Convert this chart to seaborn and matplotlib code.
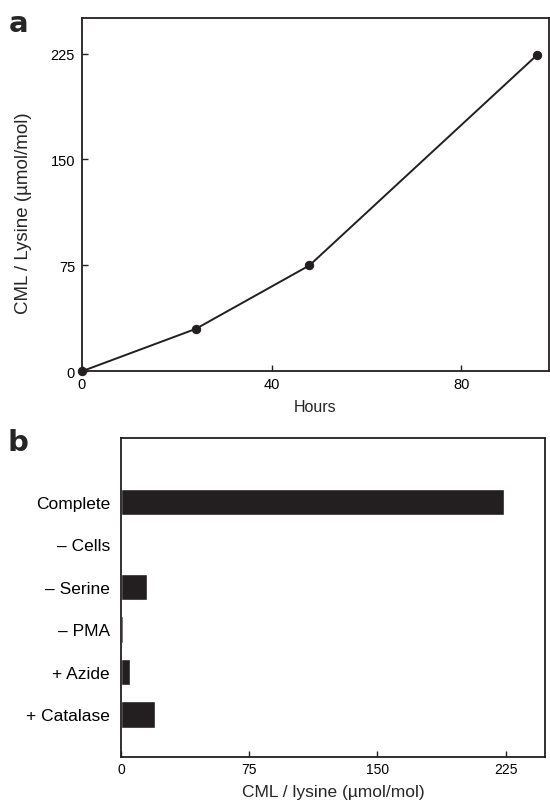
import numpy as np
import pandas as pd
import matplotlib
matplotlib.use('Agg')
import matplotlib.pyplot as plt
import seaborn as sns

## Data ##
hours = [0, 24, 48, 96]
cml_time = [0, 30, 75, 224]

conditions = ['Complete', '\u2013 Cells', '\u2013 Serine', '\u2013 PMA', '+ Azide', '+ Catalase']
cml_cond = [224, 0, 15, 1, 5, 20]

sns.set_style('ticks')
plt.rcParams['font.family'] = ['Liberation Sans', 'DejaVu Sans']

fig = plt.figure(figsize=(5.5, 8.04), dpi=100)
ax1 = fig.add_axes([0.149, 0.537, 0.849, 0.439])
ax2 = fig.add_axes([0.22, 0.0572, 0.771, 0.3968])

dark = '#231f20'

# Panel a: time course
time_df = pd.DataFrame({'hours': hours, 'cml': cml_time})
sns.lineplot(data=time_df, x='hours', y='cml', marker='o', color=dark,
             markersize=6, markeredgecolor=dark, linewidth=1.4, ax=ax1,
             clip_on=False)
ax1.set(xlim=(0, 98.5), ylim=(0, 250))
ax1.set_xticks([0, 40, 80])
ax1.set_yticks([0, 75, 150, 225])
ax1.set_xlabel('Hours', fontsize=11.5, labelpad=6)
ax1.set_ylabel('CML / Lysine (\u00b5mol/mol)', fontsize=13.5)
ax1.yaxis.set_label_coords(-0.107, 0.45)

# Panel b: conditions
cond_df = pd.DataFrame({'condition': conditions, 'cml': cml_cond})
sns.barplot(data=cond_df, x='cml', y='condition', orient='h', color=dark,
            width=0.62, saturation=1, ax=ax2)
ax2.set(xlim=(0, 248), ylim=(6, -1.5))
ax2.set_xticks([0, 75, 150, 225])
ax2.set_xlabel('CML / lysine (\u00b5mol/mol)', fontsize=12.5, labelpad=6)
ax2.set_ylabel('')

for ax in [ax1, ax2]:
    for s in ax.spines.values():
        s.set_visible(True)
        s.set_linewidth(1.3)
        s.set_color(dark)
    ax.tick_params(axis='both', direction='in', labelsize=10, width=1, length=4,
                   colors=dark, labelcolor='black')
ax1.tick_params(axis='both', labelsize=10.5)
ax1.tick_params(axis='y', pad=5)
ax1.tick_params(axis='x', pad=4)
ax2.tick_params(axis='y', length=0, pad=8, labelsize=12.5)

# Panel letters
fig.text(0.015, 0.988, 'a', fontsize=21, fontweight='bold', family='DejaVu Sans',
         va='top', ha='left')
fig.text(0.013, 0.466, 'b', fontsize=21, fontweight='bold', family='DejaVu Sans',
         va='top', ha='left')

fig.savefig('out.png', dpi=100)
